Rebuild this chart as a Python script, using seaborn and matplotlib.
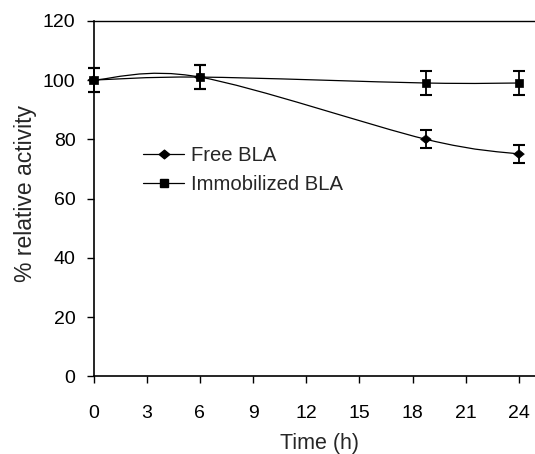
import numpy as np
import pandas as pd
import matplotlib
matplotlib.use("Agg")
import matplotlib.pyplot as plt
from matplotlib.path import Path
from matplotlib.patches import PathPatch
from matplotlib.lines import Line2D
import seaborn as sns

# Measured activity over time
time_h = [0, 6, 18.75, 24]
free_bla = [100, 101, 80, 75]
free_err = [4, 4, 3, 3]
immob_bla = [100, 101, 99, 99]
immob_err = [4, 4, 4, 4]
series_names = ["Free BLA", "Immobilized BLA"]
x_ticks = [0, 3, 6, 9, 12, 15, 18, 21, 24]
y_ticks = [0, 20, 40, 60, 80, 100, 120]

sns.set_style("ticks")
plt.rcParams["font.family"] = ["Liberation Sans", "DejaVu Sans"]
plt.rcParams["font.size"] = 14

# slightly wide diamond marker
DIAMOND = [(-1, 0), (0, 0.82), (1, 0), (0, -0.82), (-1, 0)]


def smooth_path(xs, ys):
    """Cubic Bezier through the points (spreadsheet-style smoothed line)."""
    pts = np.column_stack([xs, ys]).astype(float)
    n = len(pts)
    verts = [pts[0]]
    codes = [Path.MOVETO]
    for i in range(n - 1):
        p0 = pts[i - 1] if i > 0 else pts[i]
        p1 = pts[i]
        p2 = pts[i + 1]
        p3 = pts[i + 2] if i + 2 < n else pts[i + 1]
        c1 = p1 + (p2 - p0) / 6.0
        c2 = p2 - (p3 - p1) / 6.0
        verts += [c1, c2, p2]
        codes += [Path.CURVE4] * 3
    return Path(verts, codes)


df = pd.DataFrame({
    "time": time_h * 2,
    "activity": free_bla + immob_bla,
    "series": [series_names[0]] * len(time_h) + [series_names[1]] * len(time_h),
})

fig = plt.figure(figsize=(5.35, 4.54), dpi=100)
ax = fig.add_axes([0.1748, 0.1711, 0.845, 0.7831])

line_kw = dict(fill=False, edgecolor="black", linewidth=0.9, zorder=2, clip_on=False)
ax.add_patch(PathPatch(smooth_path(time_h, free_bla), **line_kw))
ax.add_patch(PathPatch(smooth_path(time_h, immob_bla), **line_kw))

err_kw = dict(fmt="none", ecolor="black", elinewidth=1.3, capsize=4, capthick=1.5,
              zorder=3, clip_on=False)
ax.errorbar(time_h, free_bla, yerr=free_err, **err_kw)
ax.errorbar(time_h, immob_bla, yerr=immob_err, **err_kw)

sns.scatterplot(data=df, x="time", y="activity", style="series", hue="series",
                markers={series_names[0]: DIAMOND, series_names[1]: "s"},
                palette={series_names[0]: "black", series_names[1]: "black"},
                size="series", sizes={series_names[0]: 58, series_names[1]: 36},
                edgecolor="black", linewidth=0.5,
                legend=False, ax=ax, zorder=4, clip_on=False)

handles = [
    Line2D([], [], color="black", lw=0.9, marker=DIAMOND, ms=7.6),
    Line2D([], [], color="black", lw=0.9, marker="s", ms=6),
]
ax.legend(handles, series_names, loc="upper left", bbox_to_anchor=(0.109, 0.648),
          frameon=False, fontsize=14.6, handlelength=2.05, handletextpad=0.35,
          labelspacing=0.48, borderpad=0, borderaxespad=0)

ax.set_xlim(0, 25.5)
ax.set_ylim(0, 120)
ax.set_xticks(x_ticks)
ax.set_yticks(y_ticks)
ax.set_xlabel("Time (h)", fontsize=15.5, labelpad=7.5)
ax.set_ylabel("% relative activity", fontsize=16.5, labelpad=4.5)
ax.yaxis.set_label_coords(-0.124, 0.514)
ax.tick_params(axis="both", direction="out", length=5, width=1, color="black",
               labelsize=14, labelcolor="black")
ax.tick_params(axis="x", pad=16)
ax.tick_params(axis="y", pad=8)
for side in ["left", "bottom", "top"]:
    ax.spines[side].set_color("black")
    ax.spines[side].set_linewidth(1.2)
ax.spines["right"].set_visible(False)
ax.spines["top"].set_linewidth(1.0)

fig.savefig("out.png", dpi=100)
